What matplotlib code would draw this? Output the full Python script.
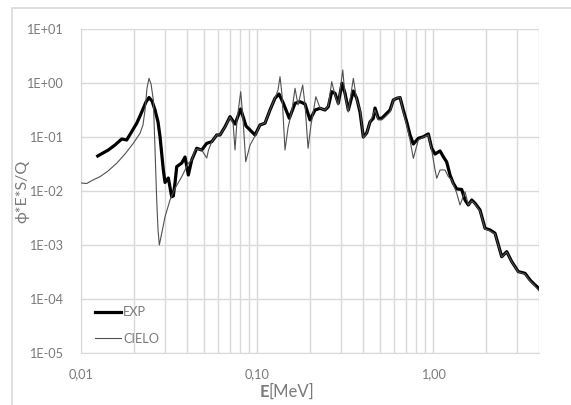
import numpy as np
import matplotlib
matplotlib.use("Agg")
import matplotlib.pyplot as plt
from matplotlib.patches import Rectangle

plt.rcParams['font.family'] = ['Lato', 'DejaVu Sans']

# EXP spectrum (energy in MeV, phi*E*S/Q)
exp_E = [0.01245, 0.01334, 0.01429, 0.0156, 0.01703, 0.01818, 0.01923, 0.02073, 0.02164, 0.0226,
         0.0234, 0.02434, 0.02532, 0.02634, 0.02739, 0.02812, 0.02936, 0.03002, 0.03134, 0.03276,
         0.03345, 0.03421, 0.03498, 0.03735, 0.039, 0.04072, 0.04256, 0.04543, 0.04851, 0.05179,
         0.0553, 0.05904, 0.06163, 0.0658, 0.07025, 0.075, 0.08077, 0.0866, 0.09125, 0.0974,
         0.104, 0.111, 0.1185, 0.1265, 0.1334, 0.1411, 0.1526, 0.1644, 0.1755, 0.1874,
         0.2, 0.2136, 0.228, 0.2434, 0.2541, 0.2657, 0.2774, 0.2896, 0.3041, 0.3162,
         0.3302, 0.3525, 0.3685, 0.3847, 0.4018, 0.4201, 0.4385, 0.4579, 0.4683, 0.4889,
         0.5111, 0.5337, 0.5698, 0.5949, 0.6221, 0.6494, 0.678, 0.7088, 0.7401, 0.7727,
         0.825, 0.8809, 0.9404, 0.9831, 1.027, 1.096, 1.144, 1.196, 1.249, 1.304,
         1.364, 1.455, 1.52, 1.587, 1.66, 1.733, 1.849, 1.975, 2.108, 2.251,
         2.456, 2.623, 2.801, 3.053, 3.332, 3.557, 3.715, 4.0]
exp_F = [0.0445, 0.0506, 0.0574, 0.0711, 0.0918, 0.088, 0.119, 0.18, 0.245, 0.34,
         0.445, 0.539, 0.464, 0.316, 0.19, 0.101, 0.0245, 0.0144, 0.0174, 0.00784,
         0.00808, 0.0141, 0.0282, 0.033, 0.0426, 0.0198, 0.0375, 0.0618, 0.0574, 0.0764,
         0.0818, 0.109, 0.109, 0.155, 0.238, 0.174, 0.33, 0.16, 0.135, 0.109,
         0.167, 0.18, 0.316, 0.521, 0.625, 0.421, 0.222, 0.421, 0.451, 0.408,
         0.207, 0.316, 0.34, 0.316, 0.364, 0.69, 0.644, 0.421, 0.987, 0.644,
         0.316, 0.711, 0.521, 0.29, 0.1, 0.119, 0.19, 0.222, 0.344, 0.222,
         0.222, 0.255, 0.316, 0.484, 0.521, 0.539, 0.316, 0.19, 0.109, 0.0742,
         0.0946, 0.101, 0.114, 0.0618, 0.0484, 0.0551, 0.0432, 0.0344, 0.0198, 0.0139,
         0.0109, 0.0107, 0.00681, 0.00551, 0.00681, 0.00592, 0.00445, 0.00204, 0.0019, 0.00165,
         0.000607, 0.000752, 0.000491, 0.000321, 0.000299, 0.000225, 0.000195, 0.000156]

# CIELO evaluation
cielo_E = [0.01, 0.01077, 0.0117, 0.01282, 0.01423, 0.01595, 0.01778, 0.01982, 0.02164, 0.0225,
           0.02311, 0.02371, 0.02434, 0.025, 0.02576, 0.02634, 0.02692, 0.02739, 0.02786, 0.02885,
           0.03002, 0.03204, 0.03421, 0.03735, 0.04072, 0.04256, 0.04443, 0.04622, 0.04851, 0.05179,
           0.05302, 0.0553, 0.059, 0.0616, 0.0658, 0.0703, 0.0731, 0.075, 0.077, 0.0808,
           0.0833, 0.0863, 0.0913, 0.0974, 0.104, 0.111, 0.1185, 0.1265, 0.1316, 0.1351,
           0.1387, 0.1442, 0.15, 0.158, 0.1644, 0.171, 0.1818, 0.1874, 0.195, 0.2026,
           0.216, 0.228, 0.2434, 0.2541, 0.2657, 0.2774, 0.2896, 0.307, 0.316, 0.33,
           0.3525, 0.3685, 0.385, 0.402, 0.42, 0.4385, 0.468, 0.489, 0.511, 0.534,
           0.57, 0.595, 0.622, 0.649, 0.678, 0.709, 0.74, 0.773, 0.825, 0.881,
           0.94, 0.983, 1.027, 1.05, 1.096, 1.17, 1.222, 1.277, 1.364, 1.423,
           1.52, 1.587, 1.66, 1.733, 1.849, 1.975, 2.108, 2.251, 2.456, 2.623,
           2.801, 3.053, 3.332, 3.557, 3.715, 4.0]
cielo_F = [0.0141, 0.01377, 0.016, 0.0184, 0.0234, 0.0326, 0.0484, 0.0764, 0.117, 0.167,
           0.316, 0.807, 1.22, 0.958, 0.484, 0.0574, 0.00681, 0.0019, 0.001, 0.00174,
           0.00334, 0.00681, 0.0112, 0.0184, 0.0326, 0.0375, 0.0574, 0.06, 0.0574, 0.0408,
           0.0574, 0.0818, 0.109, 0.109, 0.153, 0.234, 0.182, 0.0574, 0.207, 0.69,
           0.207, 0.0349, 0.0711, 0.1044, 0.167, 0.182, 0.316, 0.527, 0.742, 1.308,
           0.6, 0.0574, 0.147, 0.316, 0.798, 0.392, 0.918, 0.392, 0.0618, 0.167,
           0.558, 0.344, 0.316, 0.375, 1.057, 0.6, 0.392, 1.74, 0.6, 0.29,
           1.22, 0.484, 0.316, 0.0958, 0.119, 0.19, 0.316, 0.207, 0.207, 0.234,
           0.29, 0.484, 0.527, 0.551, 0.29, 0.167, 0.088, 0.0403, 0.088, 0.1,
           0.109, 0.0574, 0.0245, 0.0172, 0.0245, 0.0245, 0.0184, 0.016, 0.00906, 0.00551,
           0.00971, 0.00551, 0.00653, 0.00574, 0.00426, 0.00198, 0.00182, 0.0016, 0.0006, 0.000741,
           0.000484, 0.000316, 0.00029, 0.000216, 0.00019, 0.000141]

x_ticks = [0.01, 0.1, 1.0]
x_labels = ['0,01', '0,10', '1,00']
y_ticks = [1e-5, 1e-4, 1e-3, 1e-2, 1e-1, 1e0, 1e1]
y_labels = ['1E-05', '1E-04', '1E-03', '1E-02', '1E-01', '1E+00', '1E+01']

grey = '#7a7a7a'
gridc = '#d9d9d9'

fig = plt.figure(figsize=(5.71, 4.05), dpi=100)
ax = fig.add_axes([81/571, 1 - 353/405, 458/571, 324/405])

# outer chart-area frame (cut off on right and bottom)
fig.patches.append(Rectangle((12/571, -0.1), 1.2, (405 - 8)/405 + 0.1, transform=fig.transFigure,
                             fill=False, edgecolor=gridc, lw=1.2))

ax.plot(exp_E, exp_F, color='black', lw=2.3, label='EXP', zorder=3)
ax.plot(cielo_E, cielo_F, color='#505050', lw=0.8, label='CIELO', zorder=4)

ax.set_xscale('log')
ax.set_yscale('log')
ax.set_xlim(0.01, 4.0)
ax.set_ylim(1e-5, 1e1)

ax.set_xticks(x_ticks)
ax.set_xticklabels(x_labels)
ax.set_yticks(y_ticks)
ax.set_yticklabels(y_labels)
ax.xaxis.set_minor_locator(matplotlib.ticker.LogLocator(base=10, subs=np.arange(2, 10)))
ax.xaxis.set_minor_formatter(matplotlib.ticker.NullFormatter())
ax.yaxis.set_minor_locator(matplotlib.ticker.NullLocator())

ax.grid(True, which='both', axis='x', color=gridc, lw=1.0)
ax.grid(True, which='major', axis='y', color=gridc, lw=1.0)
ax.set_axisbelow(True)
for s in ax.spines.values():
    s.set_visible(False)
ax.spines['left'].set_visible(True)
ax.spines['left'].set_color(gridc)
ax.spines['bottom'].set_visible(True)
ax.spines['bottom'].set_color(gridc)

ax.tick_params(which='both', length=0, colors=grey, labelsize=9.2)
ax.tick_params(axis='x', pad=11)
ax.tick_params(axis='y', pad=13)

fig.text(22/571, 1 - 191/405, 'ϕ*E*S/Q', rotation=90, ha='center', va='center',
         fontsize=11.5, color=grey)
fig.text(269/571, 1 - 392/405, 'E', ha='right', va='center', fontsize=12,
         fontweight='bold', color=grey)
fig.text(269/571, 1 - 392/405, '[MeV]', ha='left', va='center', fontsize=12, color=grey)

leg = ax.legend(loc='upper left', bbox_to_anchor=((95 - 81)/458, (353 - 306)/324),
                frameon=False, fontsize=9.2, handlelength=2.0, handletextpad=0.2,
                labelspacing=1.15, borderpad=0, borderaxespad=0)
for t in leg.get_texts():
    t.set_color(grey)

fig.savefig('out.png', dpi=100)
